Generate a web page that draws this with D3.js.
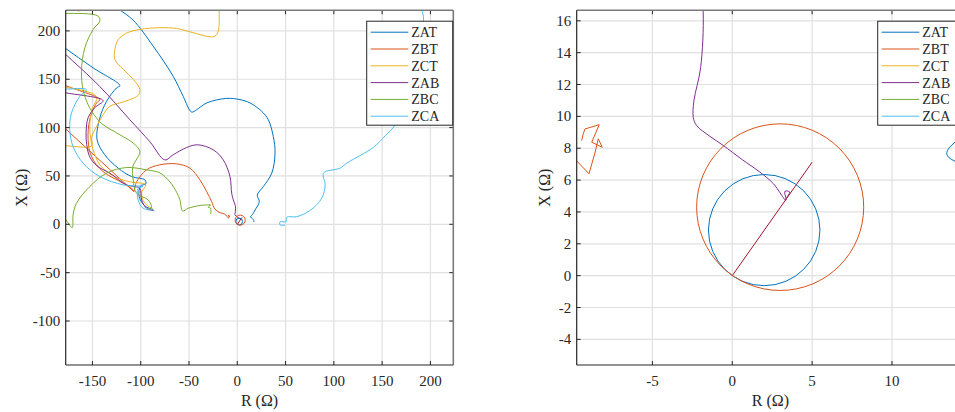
<!DOCTYPE html>
<html>
<head>
<meta charset="utf-8">
<script src="https://cdn.jsdelivr.net/npm/d3@7"></script>
<style>
body { margin: 0; background: #fff; }
svg { display: block; }
text { font-family: "Liberation Serif", "Tinos", "Times New Roman", "DejaVu Serif", serif; fill: #262626; }
</style>
</head>
<body>
<svg id="chart" width="955" height="412"></svg>
<script>
// impedance trajectories, [R, X] in ohm, null = break in the trace
const names = ['ZAT', 'ZBT', 'ZCT', 'ZAB', 'ZBC', 'ZCA'];

const zat = [
  [-137, 233], [-122.4, 222.2], [-107.8, 211.1], [-87.1, 184.2], [-66.4, 153.1], [-56, 132.3], [-47.3, 116.1],
  [-42.1, 118.5], [-31.7, 125.5], [-11, 130.2], [2.8, 128.9], [13.2, 125.5], [25.3, 116.8], [32.1, 108.2],
  [37.3, 90.8], [39.1, 73.6], [35.7, 52.9], [27, 39], [20.7, 30.4], [22.8, 23.4], [18.4, 14.8], [15.5, 9.8],
  [13.43, 7.65], [14.6, 6.8], [16.4, 5], [17.3, 3.4], [16.9, 2.5],
  null,
  [-193, 193], [-178.7, 182.5], [-149.3, 161.8], [-121.6, 143.4], [-125.1, 141], [-135.4, 127.1], [-142.4, 109.9],
  [-145.2, 87.4], [-137.2, 71.9], [-123.4, 58.1], [-109.5, 49.4], [-95.7, 45.9], [-94.7, 41.8], [-100.2, 39.7],
  [-101.6, 28.6], [-95.7, 19], [-87.1, 14.8], [-85.9, 13.8]
];

const zbt = [
  [-195, 152], [-178.7, 143.9], [-142.4, 128.9], [-145.8, 125.5], [-152.8, 108.1], [-154.5, 87.4], [-151, 70.1],
  [-139, 54.5], [-118.2, 42.5], [-107.8, 35.6], [-107.1, 33.8], [-104.3, 43.9], [-94, 56.3], [-80.2, 61.5],
  [-62.8, 62.5], [-49.1, 58.1], [-38.7, 45.9], [-31.7, 33.8], [-26.5, 23.4], [-23.1, 15.6], [-17.9, 12],
  [-13, 10.6], [-8.97, 6.4], [-8.6, 7.7], [-8.39, 8.59], [-8.14, 8.06], [-8.8, 8.38], [-8.33, 9.48],
  [-9.22, 9.21], [-9.33, 8.9], [-9.43, 8.48],
  null,
  [-200, 119], [-107.1, 33.8]
];

const zct = [
  [-18.4, 232.6], [-18.7, 222.2], [-19.7, 199.7], [-23.1, 194.5], [-28.3, 193.9], [-45.6, 198.1], [-62.8, 202.5],
  [-80.2, 203.3], [-100.9, 201.5], [-114.5, 197.8], [-123.2, 191.1], [-126.8, 180.7], [-126.8, 170.4],
  [-118.2, 160.4], [-107.8, 150], [-100.9, 139.6], [-102.5, 133.5], [-111.3, 128.9], [-121.6, 125.5],
  [-132, 122], [-139, 113.3], [-145.8, 101.2], [-151, 89.5], [-150.7, 81.2], [-178.7, 81.2], [-200, 81.2],
  null,
  [-195, 146], [-178.7, 142.3], [-145.8, 132], [-150.7, 118.5], [-152.8, 100.9], [-151.7, 87.4], [-149.3, 77.1],
  [-142.4, 61.5], [-128.6, 50.1], [-111.3, 43.9], [-97.8, 42.3], [-94.7, 40.8], [-98.8, 33.5], [-97.8, 25.2],
  [-92.6, 19], [-87.4, 15.9],
  null,
  [-169, 226], [-167, 221.5], [-163, 220.8], [-160, 222.5], [-159, 226]
];

const zab = [
  [-194, 191], [-178.7, 176.6], [-142.4, 142.5], [-111.3, 108.2], [-90.5, 85.4], [-75, 66.6], [-66.4, 71.9],
  [-52.5, 79.4], [-40.8, 82.2], [-24.9, 77], [-14.5, 66.6], [-7.6, 49.4], [-5.8, 32.1], [-4.1, 25.2],
  [-2.1, 19.5], [-1.82, 16.6], [-1.98, 13.06], [-2.4, 10.98], [-2.44, 9.94], [-2.23, 9.42], [-1.4, 8.75],
  [-0.56, 8.17], [0.6, 7.3], [1.73, 6.5], [2.57, 5.78], [3.36, 4.73], [3.3, 5.3], [3.6, 5.25], [3.4, 4.9],
  null,
  [-195, 140], [-178.7, 136.2], [-139, 127.9], [-147.6, 120.6], [-154.5, 110.2], [-156.6, 94.7], [-155.9, 82.2],
  [-152.8, 69.8], [-145.5, 60.5], [-132, 52.9], [-114.7, 40.8], [-106.1, 39], [-100.9, 37.3], [-99.1, 25.2],
  [-94, 16.6], [-87.1, 14.1]
];

const zbc = [
  [-200, 217], [-178.7, 218.1], [-144.1, 215.3], [-142.4, 210.1], [-149.3, 201.5], [-157.9, 182.5],
  [-161.4, 158.2], [-159.7, 139.3], [-154.5, 123.7], [-145.8, 109.9], [-139, 103], [-121.6, 92.6],
  [-107.8, 84], [-100.9, 75.3], [-108.2, 59.4], [-107.8, 45.9], [-104.3, 32.1], [-92.3, 25.2],
  [-88.8, 16.9], [-92.6, 14.8],
  null,
  [-195, 25], [-178.7, 6.2], [-170.9, -3.3], [-170.1, 9.6], [-166.5, 21.8], [-152.8, 39], [-135.4, 52.9],
  [-114.7, 58.7], [-94, 56.3], [-80.2, 53.2], [-69.8, 43.9], [-62.5, 32.5], [-59.4, 25.2], [-56.6, 13.8],
  [-50.8, 16.6], [-38.7, 19.5], [-31.7, 20], [-27.6, 20], [-30.1, 17.6], [-27.6, 16.6], [-27.6, 10.7]
];

const zca = [
  [190.5, 232.6], [191.2, 222.2], [192.9, 211.8], [180, 150], [163.5, 103], [153.2, 91.6], [141, 79.6],
  [113.4, 63.3], [106.5, 58.1], [89.2, 52.9], [91, 40.8], [87.5, 27], [75.4, 14.3], [61.6, 7.9],
  [51.2, 7.3], [50.5, 2.7], [44.3, 2.7], [44.3, -0.7], [49.5, -0.7],
  null,
  [-195, 140], [-178.7, 139.8], [-156.2, 139.3], [-163.1, 132.3], [-171.7, 115.1], [-173.5, 97.8],
  [-170.1, 80.5], [-159.7, 63.3], [-142.4, 49.4], [-118.2, 40.8], [-97.5, 39], [-102.7, 37.3],
  [-102.7, 25.2], [-97.5, 16.6], [-88.8, 14.8]
];

// relay line and mho circles (centre R, centre X, radius)
const relayLine = [[0, 0], [5, 7.12]];
const mhoCircles = [[2.0, 2.86, 3.49], [3.0, 4.3, 5.23]];

const leftXTicks = [-150, -100, -50, 0, 50, 100, 150, 200];
const leftYTicks = [-100, -50, 0, 50, 100, 150, 200];
const rightXTicks = [-5, 0, 5, 10];
const rightYTicks = [-4, -2, 0, 2, 4, 6, 8, 10, 12, 14, 16];

const series = [zat, zbt, zct, zab, zbc, zca];
const colors = ['#0072BD', '#D95319', '#EDB120', '#7E2F8E', '#77AC30', '#4DBEEE'];
const lineColor = '#A2142F';
const circleColors = ['#0072BD', '#D95319'];

const svg = d3.select('#chart');

const panels = [
  {id: 'l', left: 65.7, right: 453.3, top: 10.3, bottom: 365, xd: [-177.7, 223.7], yd: [-145.5, 221.3],
   xt: leftXTicks, yt: leftYTicks, ylabX: 26.5, legX: 366.7, zoomed: false},
  {id: 'r', left: 576.7, right: 964, top: 10.3, bottom: 365, xd: [-9.74, 14.51], yd: [-5.61, 16.66],
   xt: rightXTicks, yt: rightYTicks, ylabX: 550, legX: 877.7, zoomed: true}
];

panels.forEach(p => {
  const x = d3.scaleLinear().domain(p.xd).range([p.left, p.right]);
  const y = d3.scaleLinear().domain(p.yd).range([p.bottom, p.top]);
  const g = svg.append('g');

  svg.append('defs').append('clipPath').attr('id', 'clip' + p.id)
    .append('rect')
    .attr('x', p.left).attr('y', p.top)
    .attr('width', p.right - p.left).attr('height', p.bottom - p.top);

  // grid
  g.selectAll('.gx').data(p.xt).enter().append('line')
    .attr('x1', d => x(d)).attr('x2', d => x(d))
    .attr('y1', p.top).attr('y2', p.bottom)
    .attr('stroke', '#e0e0e0').attr('stroke-width', 1.2);
  g.selectAll('.gy').data(p.yt).enter().append('line')
    .attr('y1', d => y(d)).attr('y2', d => y(d))
    .attr('x1', p.left).attr('x2', p.right)
    .attr('stroke', '#e0e0e0').attr('stroke-width', 1.2);

  // data
  const plot = g.append('g').attr('clip-path', `url(#clip${p.id})`);
  const smooth = d3.line()
    .defined(d => d !== null)
    .x(d => x(d[0])).y(d => y(d[1]))
    .curve(d3.curveCatmullRom.alpha(0.5));
  const straight = d3.line()
    .defined(d => d !== null)
    .x(d => x(d[0])).y(d => y(d[1]));

  series.forEach((s, i) => {
    // the ZBT tail is a jagged polyline when seen close up
    const gen = (p.zoomed && i === 1) ? straight : smooth;
    plot.append('path')
      .attr('d', gen(s))
      .attr('fill', 'none')
      .attr('stroke', colors[i])
      .attr('stroke-width', 1);
  });

  plot.append('path')
    .attr('d', straight(relayLine))
    .attr('fill', 'none').attr('stroke', lineColor).attr('stroke-width', 1);

  plot.selectAll('ellipse').data(mhoCircles).enter().append('ellipse')
    .attr('cx', d => x(d[0])).attr('cy', d => y(d[1]))
    .attr('rx', d => x(d[0] + d[2]) - x(d[0]))
    .attr('ry', d => y(d[1]) - y(d[1] + d[2]))
    .attr('fill', 'none')
    .attr('stroke', (d, i) => circleColors[i])
    .attr('stroke-width', 1);

  // ticks inside the box
  const tl = 4;
  p.xt.forEach(t => {
    g.append('line').attr('x1', x(t)).attr('x2', x(t)).attr('y1', p.bottom).attr('y2', p.bottom - tl)
      .attr('stroke', '#262626');
    g.append('line').attr('x1', x(t)).attr('x2', x(t)).attr('y1', p.top).attr('y2', p.top + tl)
      .attr('stroke', '#262626');
  });
  p.yt.forEach(t => {
    g.append('line').attr('y1', y(t)).attr('y2', y(t)).attr('x1', p.left).attr('x2', p.left + tl)
      .attr('stroke', '#262626');
    g.append('line').attr('y1', y(t)).attr('y2', y(t)).attr('x1', p.right).attr('x2', p.right - tl)
      .attr('stroke', '#262626');
  });

  // box
  g.append('line').attr('x1', p.left).attr('x2', p.right).attr('y1', p.top).attr('y2', p.top)
    .attr('stroke', '#7a7a7a').attr('stroke-width', 1.6);
  g.append('line').attr('x1', p.right).attr('x2', p.right).attr('y1', p.top).attr('y2', p.bottom)
    .attr('stroke', '#7a7a7a').attr('stroke-width', 1.6);
  g.append('line').attr('x1', p.left).attr('x2', p.left).attr('y1', p.top).attr('y2', p.bottom)
    .attr('stroke', '#262626').attr('stroke-width', 1.2);
  g.append('line').attr('x1', p.left).attr('x2', p.right).attr('y1', p.bottom).attr('y2', p.bottom)
    .attr('stroke', '#262626').attr('stroke-width', 1.2);

  // tick labels
  g.selectAll('.xl').data(p.xt).enter().append('text')
    .attr('x', d => x(d)).attr('y', p.bottom + 20.5)
    .attr('text-anchor', 'middle').style('font-size', '15px')
    .text(d => String(d));
  g.selectAll('.yl').data(p.yt).enter().append('text')
    .attr('x', p.left - 5.5).attr('y', d => y(d) + 5)
    .attr('text-anchor', 'end').style('font-size', '15px')
    .text(d => String(d));

  // axis labels
  g.append('text')
    .attr('x', (p.left + p.right) / 2).attr('y', 406)
    .attr('text-anchor', 'middle').style('font-size', '16px')
    .text('R (Ω)');
  g.append('text')
    .attr('transform', `translate(${p.ylabX},${(p.top + p.bottom) / 2}) rotate(-90)`)
    .attr('text-anchor', 'middle').style('font-size', '16px')
    .text('X (Ω)');

  // legend
  const leg = g.append('g').attr('transform', `translate(${p.legX},21.2)`);
  leg.append('rect').attr('x', 0).attr('y', 0).attr('width', 86).attr('height', 104)
    .attr('fill', '#fff').attr('stroke', '#262626').attr('stroke-width', 1);
  names.forEach((n, i) => {
    const yy = 11 + i * 16.8;
    leg.append('line').attr('x1', 4).attr('x2', 41.6).attr('y1', yy).attr('y2', yy)
      .attr('stroke', colors[i]).attr('stroke-width', 1);
    leg.append('text').attr('x', 44.6).attr('y', yy + 5)
      .style('font-size', '14px').text(n);
  });
});
</script>
</body>
</html>
